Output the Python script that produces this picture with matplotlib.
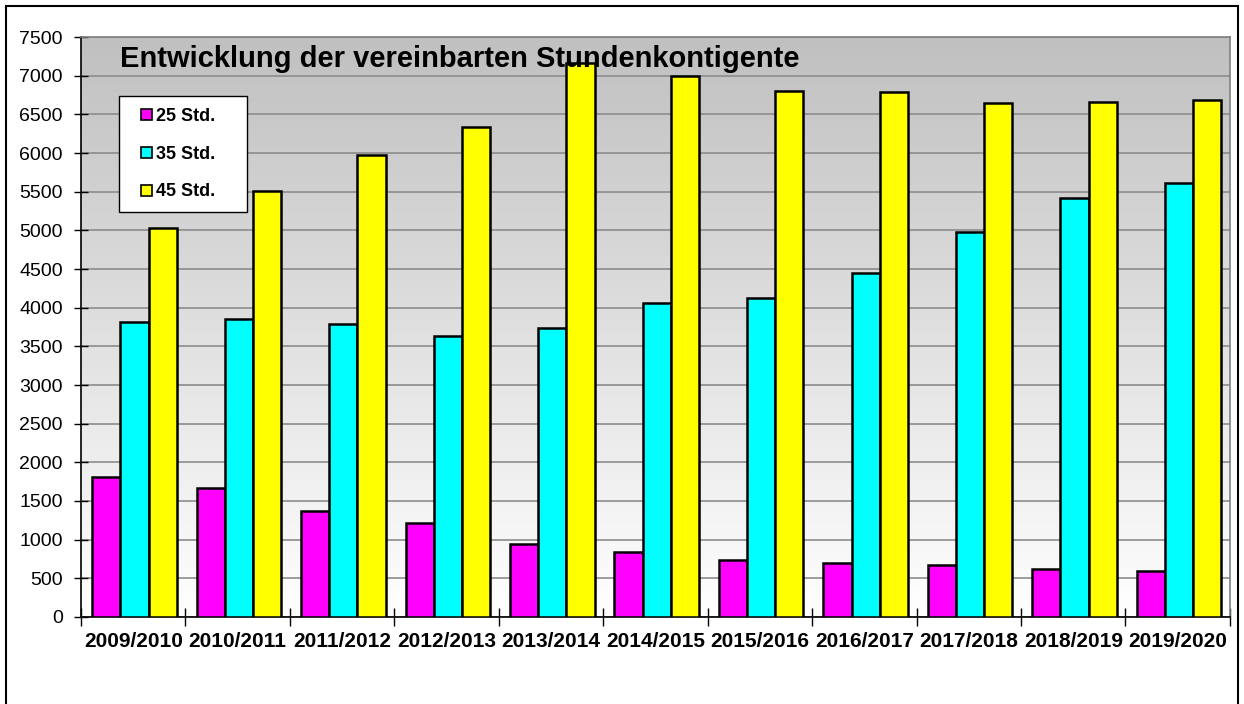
import numpy as np
import matplotlib
matplotlib.use("Agg")
import matplotlib.pyplot as plt
from matplotlib.colors import LinearSegmentedColormap
from matplotlib.patches import Patch, Rectangle
from matplotlib.legend_handler import HandlerPatch

plt.rcParams['font.family'] = ['Liberation Sans', 'DejaVu Sans']

years = ["2009/2010", "2010/2011", "2011/2012", "2012/2013", "2013/2014", "2014/2015",
         "2015/2016", "2016/2017", "2017/2018", "2018/2019", "2019/2020"]
std25 = [1815, 1670, 1375, 1220, 940, 840, 740, 695, 675, 625, 590]
std35 = [3815, 3850, 3790, 3635, 3735, 4060, 4120, 4450, 4975, 5415, 5615]
std45 = [5030, 5515, 5970, 6340, 7170, 6990, 6805, 6795, 6645, 6660, 6680]

series = [("25 Std.", std25, "#ff00ff"),
          ("35 Std.", std35, "#00ffff"),
          ("45 Std.", std45, "#ffff00")]


class SquareRight(HandlerPatch):
    # small square at the right end of the handle box (Excel-like legend key)
    def create_artists(self, legend, orig_handle, xdescent, ydescent,
                       width, height, fontsize, trans):
        s = 0.62 * fontsize
        p = Rectangle((width - s - xdescent, -ydescent + (height - s) / 2), s, s,
                      facecolor=orig_handle.get_facecolor(), edgecolor="black",
                      linewidth=1.2, transform=trans)
        return [p]


fig = plt.figure(figsize=(12.44, 7.04), dpi=100)
ax = fig.add_axes([0.0651, 0.1236, 0.9236, 0.8238])

# outer frame of the chart
fig.patches.append(Rectangle((6 / 1244, -0.01), 1232 / 1244, 1 - 6 / 704 + 0.01,
                             transform=fig.transFigure, fill=False,
                             edgecolor="black", linewidth=1.5))

# gray -> white gradient in the plot area
cmap = LinearSegmentedColormap.from_list("bg", ["#ffffff", "#c0c0c0"])
grad = np.linspace(0, 1, 256).reshape(-1, 1)
ax.imshow(grad, cmap=cmap, origin="lower", extent=[0, 1, 0, 1],
          transform=ax.transAxes, aspect="auto", zorder=0)

x = np.arange(len(years))
w = 0.27
for i, (name, vals, col) in enumerate(series):
    ax.bar(x + (i - 1) * w + 0.012, vals, width=w, color=col, edgecolor="black",
           linewidth=1.8, zorder=3)

ax.set_xlim(-0.5, len(years) - 0.5)
ax.set_ylim(0, 7500)
ax.set_yticks(np.arange(0, 7501, 500))
ax.yaxis.grid(True, color="#8c8c8c", linewidth=1.2, zorder=1)
ax.set_axisbelow(True)

ax.set_xticks(x)
ax.set_xticklabels(years, fontsize=15, fontweight="bold")
ax.set_xticks(np.arange(-0.5, len(years), 1), minor=True)
ax.tick_params(axis="x", which="major", length=0, pad=11)
ax.tick_params(axis="x", which="minor", length=13, width=1, direction="inout")
ax.tick_params(axis="y", length=10, width=1, direction="inout", labelsize=14, pad=8)

for s in ["left", "bottom"]:
    ax.spines[s].set_color("black")
    ax.spines[s].set_linewidth(1.2)
for s in ["top", "right"]:
    ax.spines[s].set_color("#808080")
    ax.spines[s].set_linewidth(1.2)

ax.text(0.034, 0.9483, "Entwicklung der vereinbarten Stundenkontigente",
        transform=ax.transAxes, fontsize=21, fontweight="bold",
        va="baseline", ha="left", zorder=5)

handles = [Patch(facecolor=c, edgecolor="black") for _, _, c in series]
leg = ax.legend(handles, [n for n, _, _ in series], loc="upper left",
                bbox_to_anchor=(0.033, 0.698, 0.1114, 0.2), mode="expand",
                borderaxespad=0, handler_map={Patch: SquareRight()},
                prop={"weight": "bold", "size": 13}, frameon=True, fancybox=False,
                edgecolor="black", framealpha=1, handlelength=1.2, handleheight=0.7,
                handletextpad=0.2, labelspacing=1.15, borderpad=0.65)
leg.get_frame().set_linewidth(1.0)
leg.set_zorder(6)

fig.savefig("out.png", dpi=100, facecolor="white")
